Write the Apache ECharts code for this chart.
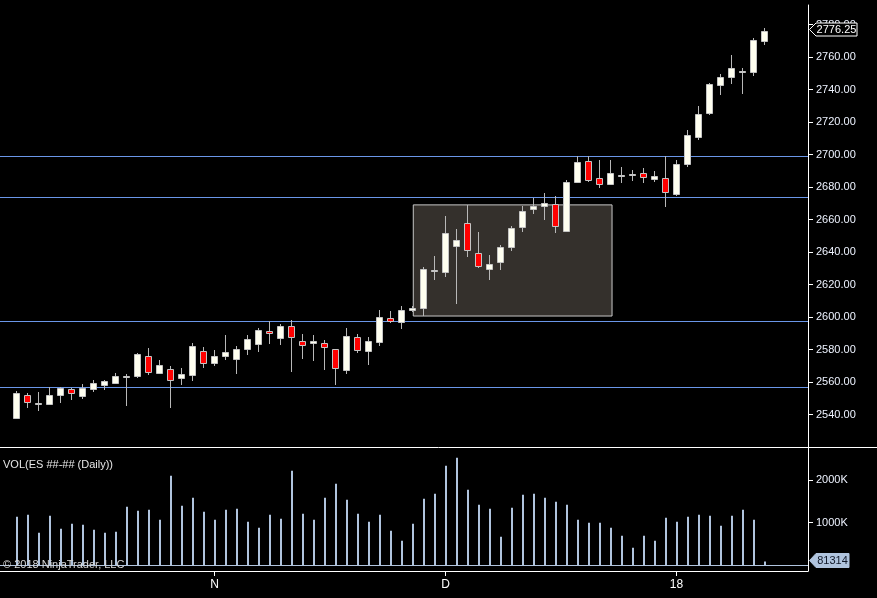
<!DOCTYPE html>
<html><head><meta charset="utf-8">
<script src="https://cdn.jsdelivr.net/npm/echarts@6.0.0/dist/echarts.min.js"></script>
<style>html,body{margin:0;padding:0;background:#000;overflow:hidden;}#c{width:877px;height:598px;}</style>
</head><body><div id="c"></div>
<script>
const opens  = [2538,2551.8,2546.5,2546.3,2551.8,2555.5,2551.2,2555.5,2558.3,2559.6,2563.3,2563.9,2576,2565.7,2568,2562.7,2564.5,2579.1,2571.5,2575.8,2574.3,2580.5,2583.2,2591.2,2587.3,2594.3,2585,2583.8,2583.8,2580.1,2567.6,2587.5,2579.3,2584.8,2599.2,2596.7,2604.1,2605.3,2628.3,2627.9,2643.9,2657.8,2639.4,2629.7,2633.7,2642.9,2655.6,2666.6,2668.1,2669.5,2653.1,2683.3,2696,2685.3,2682,2686.8,2687.4,2688.4,2684.7,2685.3,2675.9,2694.3,2711,2725.7,2742.6,2747.5,2750.8,2750.6,2769.7];
const closes = [2553.2,2547.9,2547,2551.8,2556.1,2553,2556.1,2559.2,2560.6,2563.5,2563.7,2577.2,2566.3,2570.5,2561.4,2565,2582.2,2571.5,2576,2578.3,2580.1,2586.3,2591.8,2590,2594.3,2587.5,2582.6,2585,2581.4,2568.4,2588.1,2579.5,2585,2599.8,2597.7,2604.1,2605.5,2629.5,2628.7,2651.7,2647.4,2641.4,2631.6,2632.5,2642.9,2654.8,2665,2668.1,2670,2656.2,2682.9,2695.4,2684.3,2682,2688.4,2687.2,2687.8,2686,2686.6,2676.7,2694.2,2711.8,2724.7,2743.4,2747.7,2753.2,2751.2,2770.3,2776.25];
const highs  = [2554.5,2553.2,2553.8,2556.7,2556.7,2556.3,2558.8,2561.2,2561.4,2565.5,2565,2578,2580.9,2573.5,2569.8,2568.6,2584.2,2581.7,2579.5,2588.9,2582.2,2588.9,2593.2,2597.4,2595.7,2598.2,2589.7,2588.9,2585.8,2580.3,2593.2,2589.5,2587.7,2604.3,2603.7,2606.8,2606.8,2630.8,2637.5,2662.2,2654.2,2668.9,2652.3,2638.2,2644.1,2656.2,2668.5,2673.4,2676.3,2674.5,2684.3,2699.1,2699.1,2696.6,2696.6,2692.1,2690.5,2691.5,2689.8,2699.1,2696.6,2715.1,2729.8,2744,2749.4,2761.2,2753.4,2771.5,2778];
const lows   = [2537.2,2544.2,2542.3,2546,2547.3,2549.1,2549.8,2553.8,2555.3,2558.8,2545.2,2562.7,2564.5,2565,2544.2,2558.3,2560.8,2568.8,2570,2573.7,2565.1,2576.8,2578.6,2583.6,2582.9,2566.3,2574.3,2573.1,2567.6,2558.3,2565.1,2578,2570.7,2582.4,2596.1,2592.8,2603.2,2600.6,2622.8,2624.8,2608,2637.1,2630.2,2623,2629.1,2640.8,2652.5,2663.6,2659.7,2651.9,2652.5,2682.5,2683.1,2679.6,2681.4,2682.7,2683.9,2682.3,2683.1,2667.9,2674.6,2692.5,2709.1,2724.5,2736.8,2743.6,2737,2748.5,2767.6];
const volumes = [1142000,1190000,764000,1166000,859000,977000,953000,835000,764000,788000,
  1378000,1284000,1307000,1071000,2111000,1402000,1591000,1260000,1071000,1307000,
  1331000,1024000,882000,1190000,1095000,2229000,1213000,1071000,1591000,1922000,
  1544000,1213000,1024000,1190000,811000,574000,977000,1567000,1682000,2348000,
  2537000,1780000,1426000,1331000,669000,1355000,1662000,1686000,1591000,1496000,
  1426000,1071000,1000000,1000000,882000,693000,409000,693000,574000,1118000,
  1024000,1142000,1190000,1166000,929000,1166000,1307000,1071000,81314];
const dateTicks = [18, 39, 60];
const dateLabels = ['N', 'D', '18'];
const priceTicks = [2540,2560,2580,2600,2620,2640,2660,2680,2700,2720,2740,2760,2780];
const volTicks = [1000000, 2000000];
const hLines = [2699, 2673.6, 2597.3, 2556.7];
const boxRange = [36.07, 54.14, 2669, 2600.6];
const lastPrice = 2776.25;
const lastVolume = 81314;

const FONT = '"Liberation Sans", Arial, sans-serif';
const candleData = opens.map((o, i) => [i, o, closes[i], lows[i], highs[i]]);
const volData = volumes.map((v, i) => [i, v]);

function renderCandle(params, api) {
  const i = api.value(0), o = api.value(1), c = api.value(2), l = api.value(3), h = api.value(4);
  const po = api.coord([i, o]), pc = api.coord([i, c]);
  const yl = api.coord([i, l])[1], yh = api.coord([i, h])[1];
  const x = Math.floor(po[0]) + 0.5;
  let top = Math.round(Math.min(po[1], pc[1])) + 0.5;
  let bot = Math.round(Math.max(po[1], pc[1])) + 0.5;
  if (bot - top < 1) bot = top + 1;
  const up = c >= o;
  return { type: 'group', children: [
    { type: 'line', shape: { x1: x, y1: Math.round(yh), x2: x, y2: Math.round(yl) }, style: { stroke: '#b8b8b8', lineWidth: 1 } },
    { type: 'rect', shape: { x: x - 3, y: top, width: 6, height: bot - top }, style: { fill: up ? '#fffff0' : '#ff0000', stroke: '#c4c4c4', lineWidth: 1 } }
  ]};
}
function renderVol(params, api) {
  const i = api.value(0), v = api.value(1);
  const p = api.coord([i, v]), p0 = api.coord([i, 0]);
  const x = Math.round(p[0]) - 1;
  return { type: 'rect', shape: { x: x, y: p[1], width: 2, height: p0[1] - p[1] }, style: { fill: '#b0c4de' } };
}
function renderPriceTag(params, api) {
  const y = Math.round(api.coord([0, api.value(1)])[1]) - 1.5;
  const ax = params.coordSys.x + params.coordSys.width;
  return { type: 'group', children: [
    { type: 'polygon', shape: { points: [[ax + 1.5, y], [ax + 8, y - 6.5], [ax + 49, y - 6.5], [ax + 49, y + 6.5], [ax + 8, y + 6.5]] }, style: { fill: '#000', stroke: '#ffffff', lineWidth: 1 } },
    { type: 'text', style: { x: ax + 28.5, y: y + 0.5, text: api.value(1).toFixed(2), fill: '#ffffff', font: '11px ' + FONT, align: 'center', verticalAlign: 'middle' } }
  ]};
}
function renderVolTag(params, api) {
  const y = Math.round(api.coord([0, api.value(1)])[1]) - 1.5;
  const ax = params.coordSys.x + params.coordSys.width;
  return { type: 'group', children: [
    { type: 'polygon', shape: { points: [[ax + 1.5, y], [ax + 8, y - 7], [ax + 41, y - 7], [ax + 41, y + 7], [ax + 8, y + 7]] }, style: { fill: '#b0c4de', stroke: '#b0c4de', lineWidth: 1 } },
    { type: 'text', style: { x: ax + 24.5, y: y + 0.5, text: String(api.value(1)), fill: '#101828', font: '11px ' + FONT, align: 'center', verticalAlign: 'middle' } }
  ]};
}

const chart = echarts.init(document.getElementById('c'), null, { renderer: 'canvas' });
const axisWhite = { color: '#ffffff', width: 1 };
chart.setOption({
  backgroundColor: '#000000',
  animation: false,
  grid: [
    { left: 0, top: 5, width: 808, height: 442 },
    { left: 0, top: 448, width: 808, height: 123 }
  ],
  xAxis: [
    { type: 'value', gridIndex: 0, min: -1.5, max: 71.9545, show: false, axisLine: { show: false, onZero: false }, splitLine: { show: false } },
    { type: 'value', gridIndex: 1, min: -1.5, max: 71.9545, position: 'bottom',
      axisLine: { show: true, onZero: false, lineStyle: axisWhite },
      axisTick: { show: true, length: 5, lineStyle: axisWhite, customValues: dateTicks },
      axisLabel: { show: true, customValues: dateTicks, color: '#ffffff', fontSize: 12, fontFamily: FONT, margin: 8,
        formatter: v => { const k = dateTicks.indexOf(Math.round(v)); return k >= 0 ? dateLabels[k] : ''; } },
      splitLine: { show: false } }
  ],
  yAxis: [
    { type: 'value', gridIndex: 0, position: 'right', min: 2520, max: 2792,
      axisLine: { show: true, onZero: false, lineStyle: axisWhite },
      axisTick: { show: true, length: 5, lineStyle: axisWhite, customValues: priceTicks },
      axisLabel: { show: true, customValues: priceTicks, color: '#eef3ff', fontSize: 11, fontFamily: FONT, margin: 8, formatter: v => v.toFixed(2) },
      splitLine: { show: false } },
    { type: 'value', gridIndex: 1, position: 'right', min: -142000, max: 2766000,
      axisLine: { show: true, onZero: false, lineStyle: axisWhite },
      axisTick: { show: true, length: 5, lineStyle: axisWhite, customValues: volTicks },
      axisLabel: { show: true, customValues: volTicks, color: '#eef3ff', fontSize: 11, fontFamily: FONT, margin: 8, formatter: v => (v / 1000) + 'K' },
      splitLine: { show: false } }
  ],
  series: [
    { type: 'line', xAxisIndex: 0, yAxisIndex: 0, data: [], z: 1, silent: true,
      markLine: { silent: true, symbol: ['none', 'none'], label: { show: false },
        lineStyle: { color: '#6a96e8', width: 1, type: 'solid' },
        data: hLines.map(v => ({ yAxis: v })) },
      markArea: { silent: true, label: { show: false },
        itemStyle: { color: '#34302c', borderColor: '#c8c8c8', borderWidth: 1 },
        data: [[{ xAxis: boxRange[0], yAxis: boxRange[2] }, { xAxis: boxRange[1], yAxis: boxRange[3] }]] } },
    { type: 'custom', xAxisIndex: 0, yAxisIndex: 0, z: 5, clip: false, renderItem: renderCandle,
      data: candleData, encode: { x: 0, y: [1, 2, 3, 4] } },
    { type: 'custom', xAxisIndex: 1, yAxisIndex: 1, z: 5, renderItem: renderVol,
      data: volData, encode: { x: 0, y: 1 } },
    { type: 'line', xAxisIndex: 1, yAxisIndex: 1, data: [], z: 4, silent: true,
      markLine: { silent: true, symbol: ['none', 'none'], label: { show: false },
        lineStyle: { color: '#b0c4de', width: 1, type: 'solid' }, data: [{ yAxis: 0 }] } },
    { type: 'custom', xAxisIndex: 0, yAxisIndex: 0, z: 10, clip: false, renderItem: renderPriceTag,
      data: [[0, lastPrice]], encode: { x: 0, y: 1 } },
    { type: 'custom', xAxisIndex: 1, yAxisIndex: 1, z: 10, clip: false, renderItem: renderVolTag,
      data: [[0, lastVolume]], encode: { x: 0, y: 1 } }
  ],
  graphic: [
    { type: 'line', z: 20, shape: { x1: 0, y1: 447.5, x2: 877, y2: 447.5 }, style: { stroke: '#ffffff', lineWidth: 1 } },
    { type: 'text', z: 20, left: 3, top: 459, style: { text: 'VOL(ES ##-## (Daily))', fill: '#e6e6e6', font: '11px ' + FONT } },
    { type: 'text', z: 20, left: 3, top: 559, style: { text: '\u00a9 2018 NinjaTrader, LLC', fill: '#d8d8d8', font: '11px ' + FONT } }
  ]
});
</script>
</body></html>
